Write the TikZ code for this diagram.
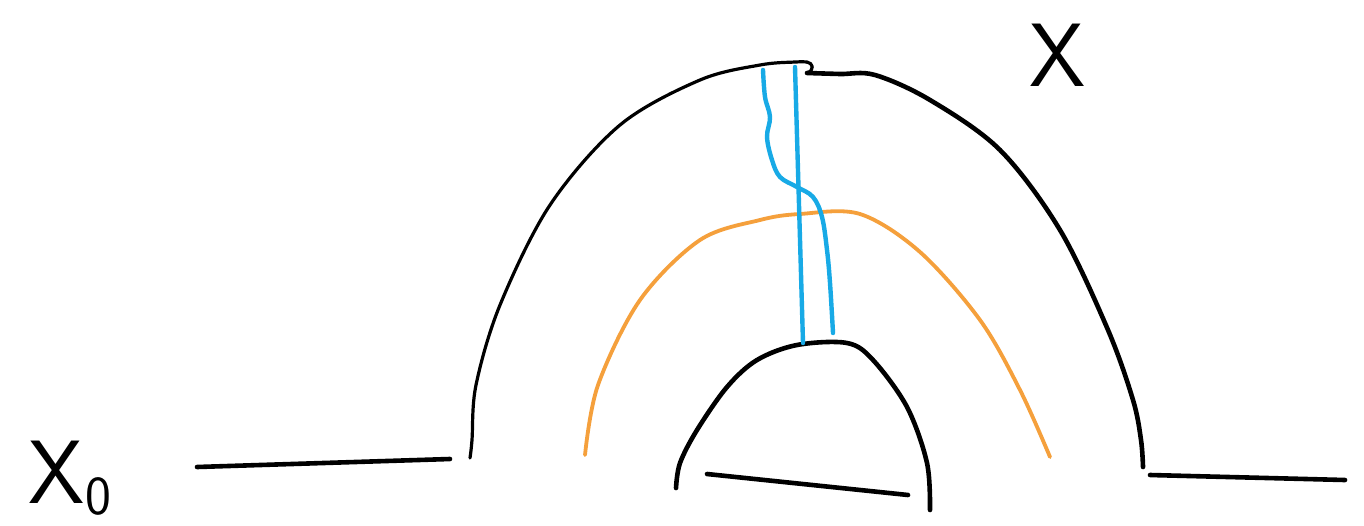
\documentclass[tikz,border=0pt]{standalone}
\usepackage{tikz}
\definecolor{skyblue}{RGB}{24,170,230}
\definecolor{sketchorange}{RGB}{245,160,60}
\tikzset{
  ink/.style={line width=4.6pt, black, line cap=round, line join=round},
  thinink/.style={line width=3.2pt, black, line cap=round, line join=round},
  blueink/.style={line width=4.4pt, skyblue, line cap=round, line join=round},
  orangeink/.style={line width=3.8pt, sketchorange, line cap=round, line join=round},
  lab/.style={font=\sffamily\fontsize{90}{90}\selectfont, inner sep=0pt}
}
\begin{document}
\begin{tikzpicture}[x=1pt,y=-1pt]
\useasboundingbox[fill=white] (0,0) rectangle (1364,525);
% base lines
\draw[ink] (197,467) -- (450,459);
\draw[ink] (1150,475) -- (1345,480);
\draw[ink] (707,474) -- (908,495);
% outer arch, left half
\draw[thinink] plot[smooth, tension=0.55] coordinates {(470,458) (472,440) (476,385) (500,305) (550,205) (620,125) (700,80) (760,65) (795,62) (807,62)};
\draw[thinink] (807,62) .. controls (813,63) and (815,70) .. (807,73);
% outer arch, right half
\draw[ink] plot[smooth, tension=0.55] coordinates {(807,73) (840,74) (875,75) (930,100) (1000,150) (1060,230) (1108,330) (1133,400) (1141,440) (1143,467)};
% orange arch
\draw[orangeink] plot[smooth, tension=0.55] coordinates {(585,455) (598,385) (640,300) (700,240) (760,220) (800,214) (860,214) (920,252) (980,320) (1020,390) (1050,457)};
% inner arch
\draw[ink] plot[smooth, tension=0.55] coordinates {(676,488) (680,463) (697,430) (727,387) (757,360) (797,345) (847,343) (873,360) (907,407) (927,463) (930,510)};
% blue strands
\draw[blueink] (795,67) -- (803,343);
\draw[blueink] plot[smooth, tension=0.6] coordinates {(763,70) (765,97) (770,117) (767,137) (772,160) (780,177) (797,187) (813,197) (822,217) (827,250) (830,283) (833,333)};
% labels
\node[lab] (x0) at (70,478) {X\raisebox{-0.12em}{\fontsize{55}{55}\selectfont 0}};
\node[lab] (x) at (1058,55) {X};
\end{tikzpicture}
\end{document}
